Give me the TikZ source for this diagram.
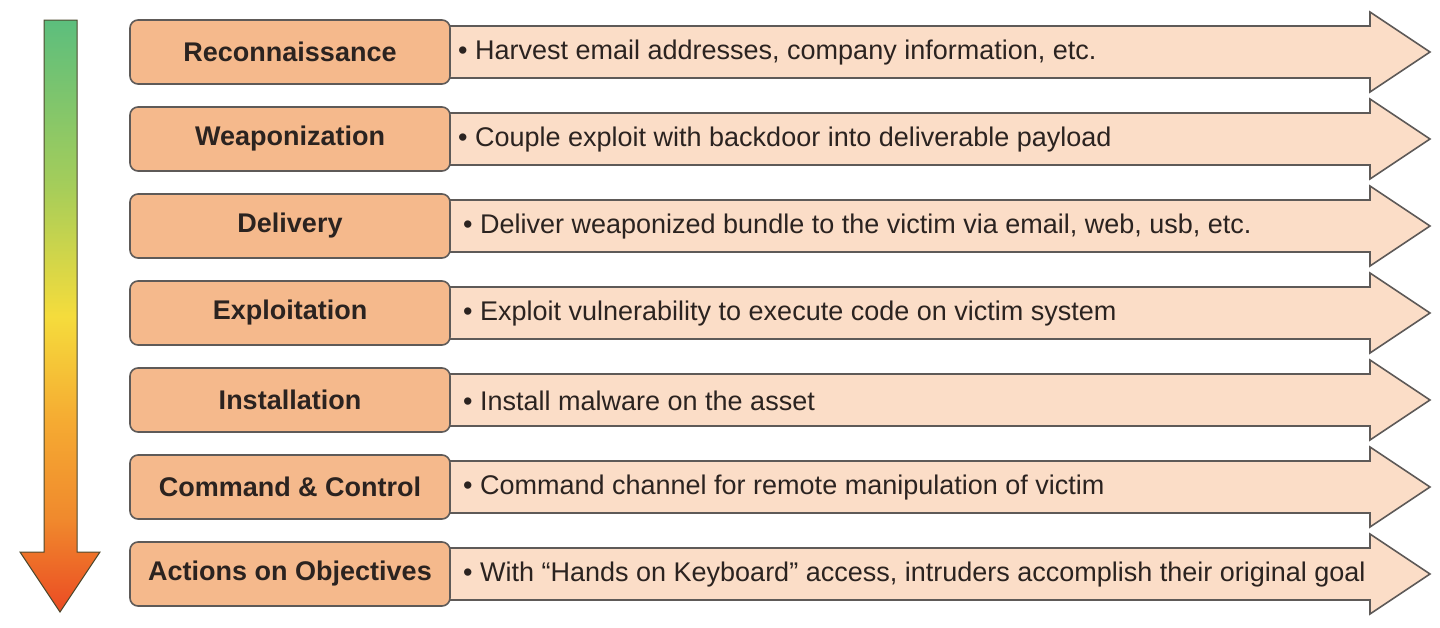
\documentclass[tikz,border=0pt]{standalone}
\usepackage{fontspec}
\setmainfont{Liberation Sans}
\definecolor{stagefill}{HTML}{F5B98C}
\definecolor{bandfill}{HTML}{FBDDC7}
\definecolor{edge}{HTML}{5E5A58}
\definecolor{ink}{HTML}{2B2320}
\definecolor{flowtop}{HTML}{5CBE7D}
\definecolor{flowlime}{HTML}{A5CD5A}
\definecolor{flowyellow}{HTML}{F5DC3C}
\definecolor{floworange}{HTML}{F5AA32}
\definecolor{flowdeep}{HTML}{F08A2D}
\definecolor{flowtip}{HTML}{EB4B23}
\pgfdeclareverticalshading{chainshade}{100bp}{color(0bp)=(flowtip); color(25bp)=(flowtip); color(33bp)=(flowdeep); color(41bp)=(floworange); color(50bp)=(flowyellow); color(61bp)=(flowlime); color(75bp)=(flowtop); color(100bp)=(flowtop)}
\tikzset{
  stage/.style={draw=edge, line width=1.6pt, fill=stagefill, rounded corners=8pt,
    minimum width=320pt, minimum height=64pt, text=ink,
    font=\fontsize{27}{30}\selectfont\bfseries},
  band/.style={draw=edge, line width=1.6pt, fill=bandfill},
  info/.style={anchor=west, text=ink, inner sep=0pt, font=\fontsize{27}{30}\selectfont}
}
\begin{document}
\begin{tikzpicture}[x=1pt, y=-1pt]
\useasboundingbox (0,0) rectangle (1440,627);
% flow arrow
\shade[shading=chainshade, draw=black!60!olive, line width=1pt]
  (44,20) -- (77,20) -- (77,552) -- (100,552) -- (60,612) -- (20,552) -- (44,552) -- cycle;
% bands
\draw[band] (440,26) -- ++(930,0) -- ++(0,-14) -- ++(60,40) -- ++(-60,40) -- ++(0,-14) -- ++(-930,0) -- cycle;
\draw[band] (440,113) -- ++(930,0) -- ++(0,-14) -- ++(60,40) -- ++(-60,40) -- ++(0,-14) -- ++(-930,0) -- cycle;
\draw[band] (440,200) -- ++(930,0) -- ++(0,-14) -- ++(60,40) -- ++(-60,40) -- ++(0,-14) -- ++(-930,0) -- cycle;
\draw[band] (440,287) -- ++(930,0) -- ++(0,-14) -- ++(60,40) -- ++(-60,40) -- ++(0,-14) -- ++(-930,0) -- cycle;
\draw[band] (440,374) -- ++(930,0) -- ++(0,-14) -- ++(60,40) -- ++(-60,40) -- ++(0,-14) -- ++(-930,0) -- cycle;
\draw[band] (440,461) -- ++(930,0) -- ++(0,-14) -- ++(60,40) -- ++(-60,40) -- ++(0,-14) -- ++(-930,0) -- cycle;
\draw[band] (440,548) -- ++(930,0) -- ++(0,-14) -- ++(60,40) -- ++(-60,40) -- ++(0,-14) -- ++(-930,0) -- cycle;
% stages
\node[stage] (Recon) at (290,52) {Reconnaissance};
\node[stage] (Weapon) at (290,139) {Weaponization};
\node[stage] (Deliver) at (290,226) {Delivery};
\node[stage] (Exploit) at (290,313) {Exploitation};
\node[stage] (Install) at (290,400) {Installation};
\node[stage] (CandC) at (290,487) {Command \& Control};
\node[stage] (Actions) at (290,574) {Actions on Objectives};
% descriptions
\node[info] (ReconTxt) at (458,53) {• Harvest email addresses, company information, etc.};
\node[info] (WeaponTxt) at (458,140) {• Couple exploit with backdoor into deliverable payload};
\node[info] (DeliverTxt) at (463,227) {• Deliver weaponized bundle to the victim via email, web, usb, etc.};
\node[info] (ExploitTxt) at (463,314) {• Exploit vulnerability to execute code on victim system};
\node[info] (InstallTxt) at (463,401) {• Install malware on the asset};
\node[info] (CandCTxt) at (463,488) {• Command channel for remote manipulation of victim};
\node[info] (ActionsTxt) at (463,575) {• With “Hands on Keyboard” access, intruders accomplish their original goal};
\end{tikzpicture}
\end{document}
